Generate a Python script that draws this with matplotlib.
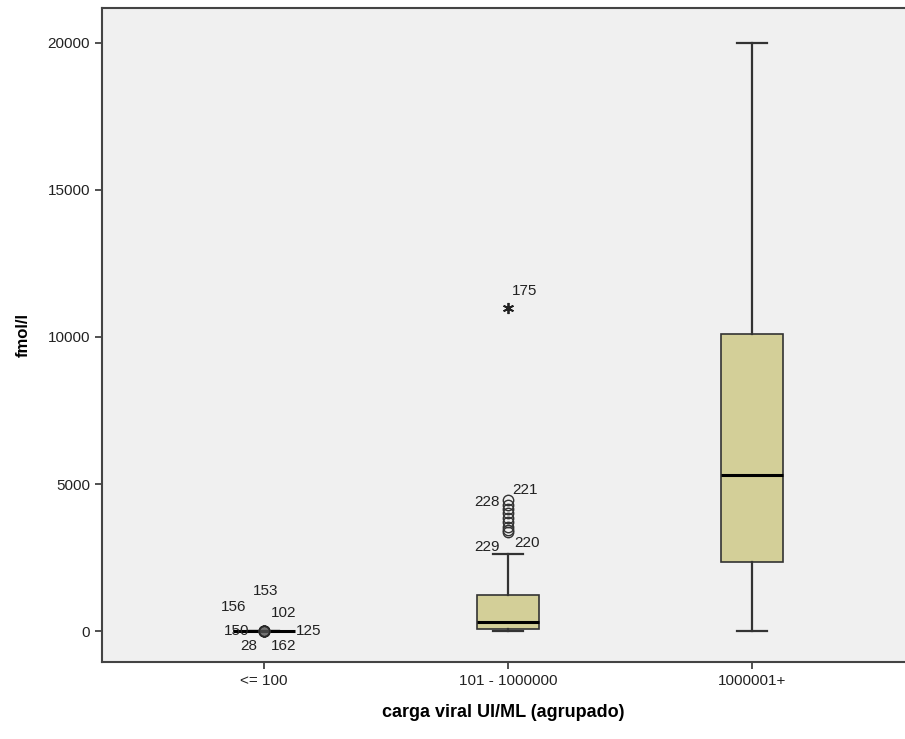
import matplotlib
matplotlib.use("Agg")
import matplotlib.pyplot as plt

plt.rcParams['font.family'] = ['Liberation Sans', 'DejaVu Sans']

categories = ["<= 100", "101 - 1000000", "1000001+"]
whislo = [0, 0, 0]
q1 = [0, 70, 2350]
med = [0, 300, 5300]
q3 = [0, 1220, 10100]
whishi = [0, 2620, 20000]
mild_outliers = [[0, 0, 0, 0, 0, 0, 0],
                 [4450, 4300, 4150, 4000, 3850, 3700, 3550, 3450, 3380],
                 []]
extreme_outliers = [[], [11000], []]

labels_g1 = ["153", "156", "102", "150", "125", "28", "162"]
labels_g2 = ["228", "221", "229", "220"]
label_g2_values = [4450, 4450, 3380, 3380]
labels_extreme = ["175"]

fig = plt.figure(figsize=(9.05, 7.39), dpi=100)
ax = fig.add_axes([102/905, 1-662/739, 1-102/905, (662-8)/739])
ax.set_facecolor('#f0f0f0')
fig.patch.set_facecolor('white')

stats = []
for i, c in enumerate(categories):
    stats.append(dict(label=c, whislo=whislo[i], q1=q1[i], med=med[i], q3=q3[i],
                      whishi=whishi[i], fliers=[]))
positions = [1, 2, 3]
ax.bxp(stats, positions=positions, widths=0.254, patch_artist=True,
       boxprops=dict(facecolor='#d3cf98', edgecolor='#333333', linewidth=1.2),
       medianprops=dict(color='black', linewidth=2.2),
       whiskerprops=dict(color='#333333', linewidth=1.6),
       capprops=dict(color='#333333', linewidth=1.6),
       capwidths=0.125)

for i, vals in enumerate(mild_outliers):
    if vals:
        ax.plot([positions[i]]*len(vals), vals, 'o', mfc='none', mec='#333333',
                ms=7.5, mew=1.0, zorder=4)
# darker cluster for the overlapping points of the first group
ax.plot([positions[0]], [mild_outliers[0][0]], 'o', mfc='#555555', mec='#222222',
        ms=7.5, mew=1.2, zorder=4, alpha=0.8)
for i, vals in enumerate(extreme_outliers):
    if vals:
        ax.plot([positions[i]]*len(vals), vals, marker=(6, 2, 0), ls='none',
                color='#222222', ms=8, mew=1.3, zorder=4)

fs = 11
offs1 = [(1, 29), (-22, 17), (14, 13), (-20, 0), (32, 0), (-11, -11), (14, -11)]
for t, (dx, dy) in zip(labels_g1, offs1):
    ax.annotate(t, (positions[0], 0), xytext=(dx, dy), textcoords='offset points',
                ha='center', va='center', fontsize=fs, color='#222222')
offs2 = [(-15, -1), (12, 7), (-15, -11), (14, -8)]
for t, v, (dx, dy) in zip(labels_g2, label_g2_values, offs2):
    ax.annotate(t, (positions[1], v), xytext=(dx, dy), textcoords='offset points',
                ha='center', va='center', fontsize=fs, color='#222222')
ax.annotate(labels_extreme[0], (positions[1], extreme_outliers[1][0]), xytext=(12, 12),
            textcoords='offset points', ha='center', va='center', fontsize=fs, color='#222222')

ax.set_xlim(0.336, 3.627)
ax.set_ylim(-1054, 21190)
ax.set_yticks([0, 5000, 10000, 15000, 20000])
ax.set_xticks(positions)
ax.set_xticklabels(categories)
ax.tick_params(axis='both', labelsize=11, colors='#333333', length=5, width=1.2,
               labelcolor='#222222')
for s in ['left', 'bottom', 'top']:
    ax.spines[s].set_color('#444444')
    ax.spines[s].set_linewidth(1.5)
ax.spines['right'].set_visible(False)

ax.set_ylabel('fmol/l', fontsize=12, fontweight='bold', labelpad=12)
ax.set_xlabel('carga viral UI/ML (agrupado)', fontsize=13, fontweight='bold', labelpad=12)

fig.savefig('out.png', dpi=100)
